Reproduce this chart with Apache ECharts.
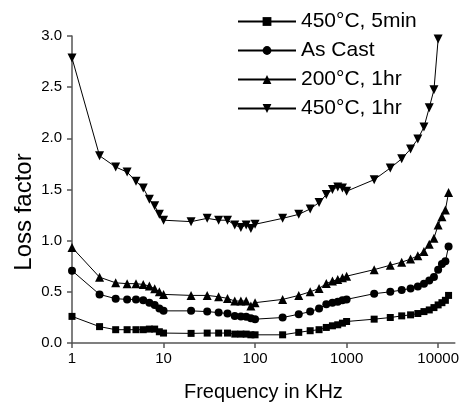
<!DOCTYPE html>
<html>
<head>
<meta charset="utf-8">
<script src="https://cdn.jsdelivr.net/npm/echarts@6/dist/echarts.min.js"></script>
<style>
  html, body { margin: 0; padding: 0; background: #fff; }
  #chart { width: 462px; height: 407px; }
</style>
</head>
<body>
<div id="chart"></div>
<script>
// frequency points (KHz), log scale
var freqKHz = [1, 2, 3, 4, 5, 6, 7, 8, 9, 10,
  20, 30, 40, 50, 60, 70, 80, 90, 100,
  200, 300, 400, 500, 600, 700, 800, 900, 1000,
  2000, 3000, 4000, 5000, 6000, 7000, 8000, 9000, 10000,
  11000, 12000, 13000];

var seriesNames = ['450°C, 5min', 'As Cast', '200°C, 1hr', '450°C, 1hr'];

var loss450_5min = [0.26, 0.16, 0.13, 0.13, 0.13, 0.13, 0.136, 0.136, 0.11, 0.097,
  0.094, 0.097, 0.097, 0.097, 0.087, 0.087, 0.087, 0.08, 0.08,
  0.08, 0.104, 0.12, 0.13, 0.152, 0.168, 0.178, 0.194, 0.21,
  0.233, 0.249, 0.265, 0.275, 0.288, 0.307, 0.323, 0.346, 0.372,
  0.394, 0.417, 0.465];

var lossAsCast = [0.707, 0.475, 0.433, 0.426, 0.426, 0.417, 0.394, 0.372, 0.336, 0.314,
  0.314, 0.307, 0.297, 0.288, 0.265, 0.259, 0.256, 0.242, 0.233,
  0.249, 0.281, 0.307, 0.336, 0.378, 0.394, 0.404, 0.417, 0.426,
  0.482, 0.50, 0.517, 0.533, 0.552, 0.578, 0.61, 0.646, 0.717,
  0.772, 0.798, 0.944];

var loss200_1hr = [0.934, 0.643, 0.588, 0.58, 0.58, 0.572, 0.556, 0.53, 0.50, 0.475,
  0.465, 0.465, 0.452, 0.436, 0.41, 0.41, 0.41, 0.362, 0.394,
  0.426, 0.465, 0.50, 0.533, 0.581, 0.605, 0.62, 0.637, 0.653,
  0.717, 0.76, 0.79, 0.82, 0.853, 0.895, 0.966, 1.024, 1.153,
  1.234, 1.30, 1.47];

var loss450_1hr = [2.785, 1.83, 1.72, 1.67, 1.58, 1.515, 1.405, 1.34, 1.257, 1.20,
  1.186, 1.218, 1.20, 1.20, 1.153, 1.128, 1.153, 1.12, 1.16,
  1.218, 1.257, 1.31, 1.373, 1.45, 1.50, 1.525, 1.515, 1.483,
  1.596, 1.71, 1.80, 1.896, 1.993, 2.11, 2.30, 2.475, 2.97];

var yTicks = ['0.0', '0.5', '1.0', '1.5', '2.0', '2.5', '3.0'];

function pairs(vals) {
  var out = [];
  for (var i = 0; i < vals.length; i++) out.push([freqKHz[i], vals[i]]);
  return out;
}

var seriesData = [loss450_5min, lossAsCast, loss200_1hr, loss450_1hr];
var symbols = ['rect', 'circle', 'triangle', 'triangle'];
var symbolSizes = [7, 8, 9, 9];
var rotations = [0, 0, 0, 180];

var myChart = echarts.init(document.getElementById('chart'));

var series = [];
for (var s = 0; s < seriesNames.length; s++) {
  series.push({
    name: seriesNames[s],
    type: 'line',
    data: pairs(seriesData[s]),
    symbol: symbols[s],
    symbolSize: symbolSizes[s],
    symbolRotate: rotations[s],
    showAllSymbol: true,
    lineStyle: { color: '#000', width: 1 },
    itemStyle: { color: '#000' },
    z: 3
  });
}

var option = {
  animation: false,
  backgroundColor: '#fff',
  textStyle: { fontFamily: 'Liberation Sans, Arial, sans-serif' },
  grid: { left: 72, right: 7, top: 36, bottom: 61, containLabel: false },
  legend: {
    orient: 'vertical',
    left: 232,
    top: 6,
    itemWidth: 58,
    itemHeight: 11,
    itemGap: 8,
    textStyle: { fontSize: 21, color: '#000' },
    data: seriesNames
  },
  xAxis: {
    type: 'log',
    logBase: 10,
    min: 1,
    max: 15200,
    name: 'Frequency in KHz',
    nameLocation: 'middle',
    nameGap: 39,
    nameTextStyle: { fontSize: 20, color: '#000' },
    axisLine: { lineStyle: { color: '#555', width: 1.5 } },
    axisTick: { inside: false, length: 5, lineStyle: { color: '#555', width: 1.5 } },
    minorTick: { show: false },
    splitLine: { show: false },
    axisLabel: {
      fontSize: 15, color: '#000', margin: 8, showMaxLabel: false,
      formatter: function (v) {
        var l = Math.log10(v);
        return Math.abs(l - Math.round(l)) < 1e-6 ? String(Math.round(v)) : '';
      }
    }
  },
  yAxis: {
    type: 'value',
    min: 0,
    max: 3,
    interval: 0.5,
    axisLine: { show: true, lineStyle: { color: '#555', width: 1.5 } },
    axisTick: { show: true, inside: false, length: 5, lineStyle: { color: '#555', width: 1.5 } },
    splitLine: { show: false },
    axisLabel: {
      fontSize: 15, color: '#000', margin: 10,
      formatter: function (v) { return yTicks[Math.round(v / 0.5)]; }
    }
  },
  graphic: [{
    type: 'text',
    x: 24,
    y: 212,
    rotation: Math.PI / 2,
    style: {
      text: 'Loss factor',
      fontSize: 24,
      fontFamily: 'Liberation Sans, Arial, sans-serif',
      fill: '#000',
      align: 'center',
      verticalAlign: 'middle'
    }
  }],
  series: series
};
myChart.setOption(option);
</script>
</body>
</html>
